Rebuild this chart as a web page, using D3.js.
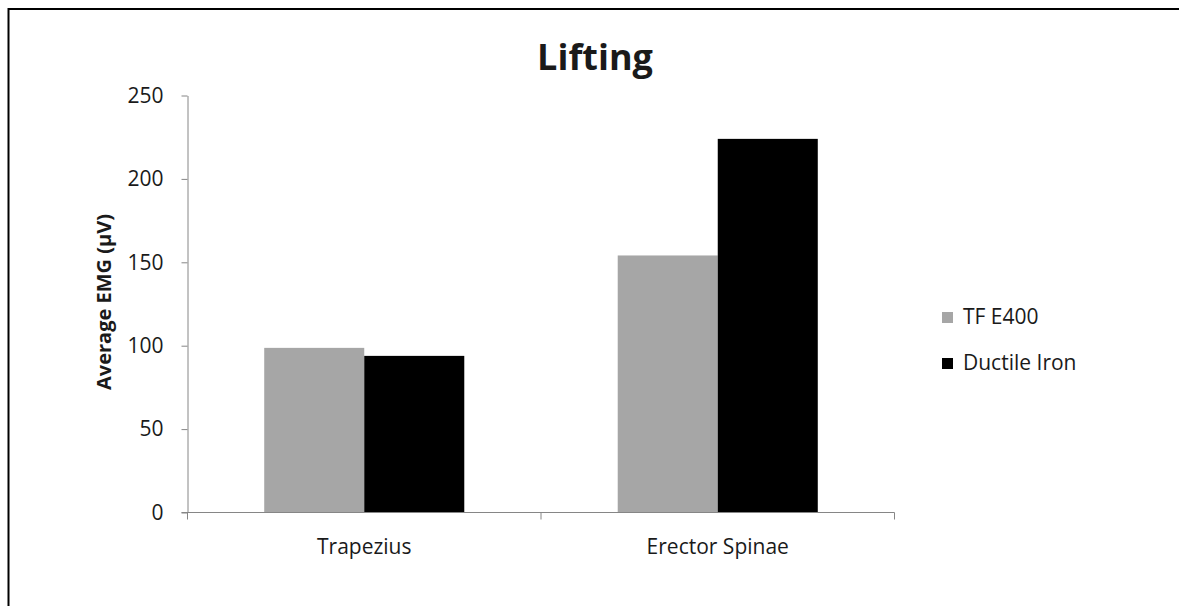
<!DOCTYPE html>
<html>
<head>
<meta charset="utf-8">
<script src="https://cdn.jsdelivr.net/npm/d3@7"></script>
<style>
  body { margin: 0; background: #fff; }
  text { font-family: "Open Sans", "Noto Sans", sans-serif; fill: #1a1a1a; }
</style>
</head>
<body>
<svg width="1179" height="606"></svg>
<script>
var categories = ["Trapezius", "Erector Spinae"];
var seriesNames = ["TF E400", "Ductile Iron"];
var seriesColors = ["#a6a6a6", "#000000"];
var tfE400 = [98.7, 154.1];
var ductileIron = [93.9, 224.0];
var yTicks = [0, 50, 100, 150, 200, 250];

var svg = d3.select("svg");

// outer frame (only top and left visible in the picture)
svg.append("rect")
    .attr("x", 8.5).attr("y", 9)
    .attr("width", 1200).attr("height", 700)
    .attr("fill", "none")
    .attr("stroke", "#000")
    .attr("stroke-width", 2);

var plotLeft = 187.5, plotRight = 894.5, plotTop = 95.5, plotBottom = 512.5;

var x = d3.scaleBand()
    .domain(categories)
    .range([plotLeft, plotRight])
    .paddingInner(0)
    .paddingOuter(0);

var x1 = d3.scaleBand()
    .domain(seriesNames)
    .range([0, x.bandwidth()])
    .paddingOuter(0.767)
    .paddingInner(0);

var y = d3.scaleLinear().domain([0, 250]).range([plotBottom, plotTop]);

var rows = categories.map(function(c, i) {
  return { cat: c, values: [tfE400[i], ductileIron[i]] };
});

var groups = svg.append("g").selectAll("g")
    .data(rows)
    .enter().append("g")
    .attr("transform", function(d) { return "translate(" + x(d.cat) + ",0)"; });

groups.selectAll("rect")
    .data(function(d) { return d.values.map(function(v, j) { return { name: seriesNames[j], v: v, j: j }; }); })
    .enter().append("rect")
    .attr("x", function(d) { return x1(d.name); })
    .attr("width", x1.bandwidth())
    .attr("y", function(d) { return y(d.v); })
    .attr("height", function(d) { return y(0) - y(d.v); })
    .attr("fill", function(d) { return seriesColors[d.j]; });

// y axis
var yAxis = svg.append("g")
    .attr("transform", "translate(" + plotLeft + ",0)")
    .call(d3.axisLeft(y).tickValues(yTicks).tickSize(6).tickPadding(18).tickSizeOuter(0));
yAxis.select(".domain").attr("stroke", "#868686");
yAxis.selectAll(".tick line").attr("stroke", "#868686");
yAxis.selectAll(".tick text")
    .style("font-size", "21px")
    .style("font-family", "'Open Sans', sans-serif")
    .attr("fill", "#1a1a1a");

// x axis: ticks at category boundaries
var xAxisG = svg.append("g").attr("transform", "translate(0," + plotBottom + ")");
xAxisG.append("line")
    .attr("x1", plotLeft - 6).attr("x2", plotRight)
    .attr("stroke", "#868686");
var bounds = categories.map(function(c) { return x(c); }).concat([plotRight]);
xAxisG.selectAll("line.tk")
    .data(bounds)
    .enter().append("line")
    .attr("class", "tk")
    .attr("x1", function(d) { return d; }).attr("x2", function(d) { return d; })
    .attr("y1", 0).attr("y2", 7)
    .attr("stroke", "#868686");
xAxisG.selectAll("text")
    .data(categories)
    .enter().append("text")
    .attr("x", function(d) { return x(d) + x.bandwidth() / 2; })
    .attr("y", 41)
    .attr("text-anchor", "middle")
    .style("font-size", "21px")
    .text(function(d) { return d; });

// title
svg.append("text")
    .attr("x", 595).attr("y", 70)
    .attr("text-anchor", "middle")
    .style("font-size", "36px")
    .style("font-weight", "bold")
    .text("Lifting");

// y label
svg.append("text")
    .attr("transform", "translate(111," + 302 + ") rotate(-90)")
    .attr("text-anchor", "middle")
    .style("font-size", "20px")
    .style("font-weight", "bold")
    .text("Average EMG (µV)");

// legend
var legend = svg.append("g").selectAll("g")
    .data(seriesNames)
    .enter().append("g")
    .attr("transform", function(d, i) { return "translate(942," + (312 + i * 46) + ")"; });
legend.append("rect")
    .attr("width", 11).attr("height", 11)
    .attr("fill", function(d, i) { return seriesColors[i]; });
legend.append("text")
    .attr("x", 21).attr("y", 12)
    .style("font-size", "21px")
    .text(function(d) { return d; });
</script>
</body>
</html>
